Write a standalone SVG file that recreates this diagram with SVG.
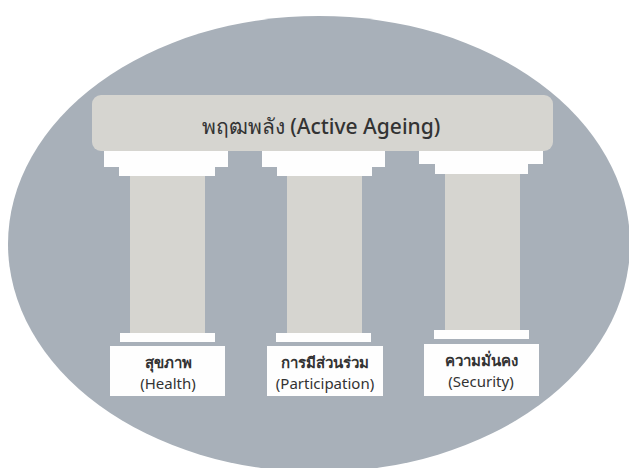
<svg xmlns="http://www.w3.org/2000/svg" width="629" height="468" viewBox="0 0 629 468">
<style>
.stone{fill:#d6d5d0}
.cap{fill:#fefefe}
.lbl{fill:#fefefe}
text{font-family:"Noto Sans","DejaVu Sans",sans-serif;fill:#333333;text-anchor:middle}
.t1{font-size:21px;font-weight:500}
.t2{font-size:15px}
.th{font-weight:bold}
</style>
<rect width="629" height="468" fill="#ffffff"/>
<ellipse cx="319" cy="244" rx="311" ry="228" fill="#a8b0b9"/>
<g id="beam">
<rect class="stone" x="92" y="95" width="461" height="56" rx="9"/>
<text class="t1" x="321" y="134">พฤฒพลัง (Active Ageing)</text>
</g>
<g id="pillar-health">
<rect class="cap" x="104" y="151" width="124" height="16"/>
<rect class="cap" x="119" y="166" width="96" height="10"/>
<rect class="stone" x="130" y="176" width="75" height="157"/>
<rect class="cap" x="120" y="333" width="95" height="9"/>
<rect class="lbl" x="110" y="346" width="115" height="50"/>
<text class="t2 th" x="168" y="368">สุขภาพ</text>
<text class="t2" x="168" y="389">(Health)</text>
</g>
<g id="pillar-participation">
<rect class="cap" x="262" y="151" width="123" height="16"/>
<rect class="cap" x="277" y="166" width="95" height="10"/>
<rect class="stone" x="287" y="176" width="75" height="157"/>
<rect class="cap" x="276" y="333" width="95" height="9"/>
<rect class="lbl" x="267" y="346" width="116" height="50"/>
<text class="t2 th" x="325" y="368">การมีส่วนร่วม</text>
<text class="t2" x="325" y="389">(Participation)</text>
</g>
<g id="pillar-security">
<rect class="cap" x="419" y="151" width="124" height="13"/>
<rect class="cap" x="435" y="163" width="93" height="11"/>
<rect class="stone" x="445" y="174" width="75" height="156"/>
<rect class="cap" x="434" y="330" width="95" height="9"/>
<rect class="lbl" x="424" y="344" width="115" height="52"/>
<text class="t2 th" x="481" y="366">ความมั่นคง</text>
<text class="t2" x="481" y="387">(Security)</text>
</g>
<g id="connectors"></g>
</svg>
